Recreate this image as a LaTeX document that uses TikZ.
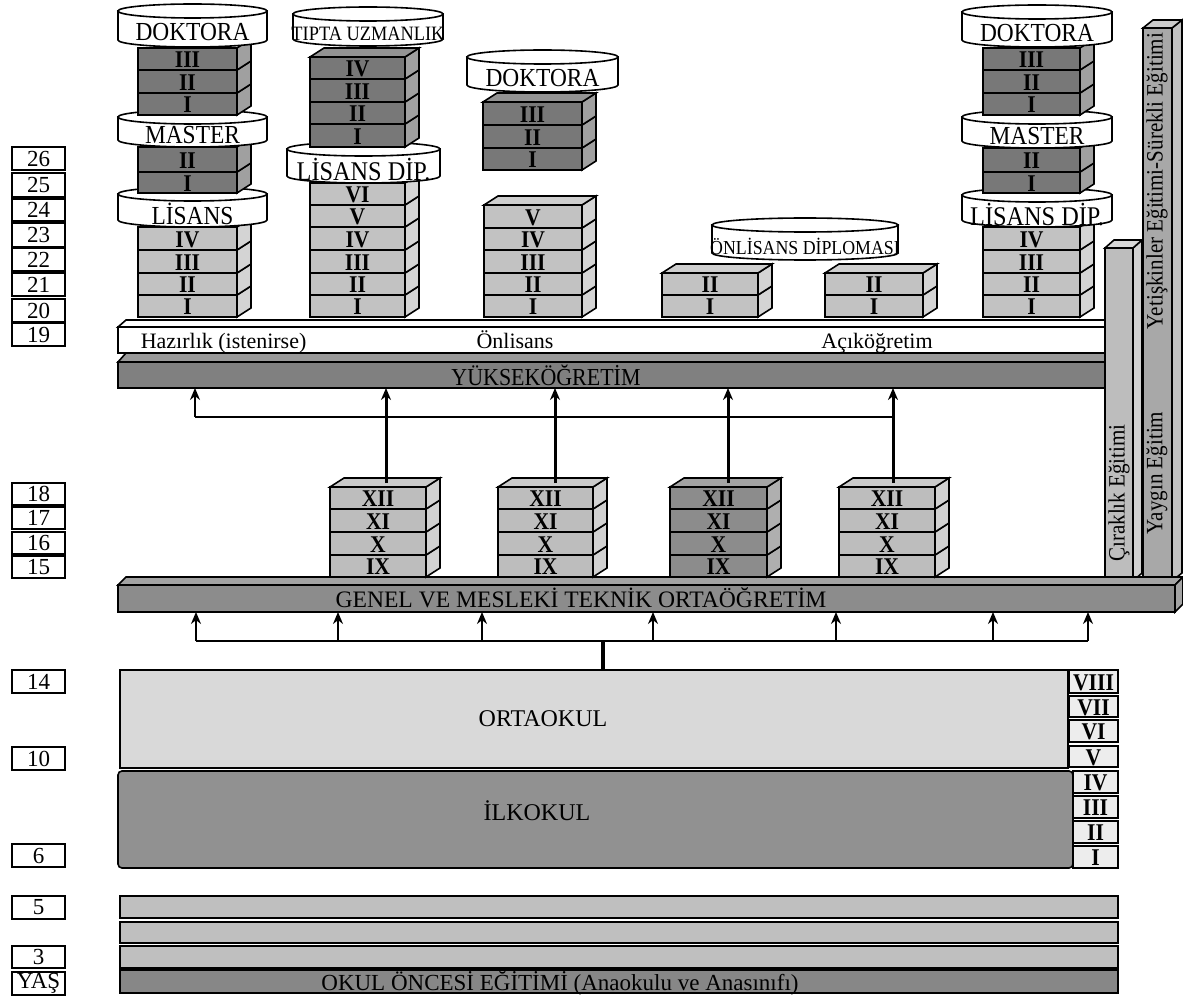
\documentclass[tikz,border=0pt]{standalone}
\usepackage{fontspec}
\setmainfont{Liberation Serif}
\newfontfamily\cond{Liberation Serif}[FakeStretch=0.9]
\usetikzlibrary{arrows.meta}
\definecolor{dk}{gray}{0.47}
\definecolor{lt}{gray}{0.76}
\definecolor{hs}{gray}{0.74}
\definecolor{hd}{gray}{0.55}
\definecolor{yokc}{gray}{0.5}
\definecolor{genc}{gray}{0.55}
\definecolor{orta}{gray}{0.85}
\definecolor{ilk}{gray}{0.57}
\definecolor{okb}{gray}{0.75}
\definecolor{okd}{gray}{0.53}
\definecolor{romc}{gray}{0.93}
\definecolor{circ}{gray}{0.74}
\definecolor{yayc}{gray}{0.66}
% block: x1 x2 ytop ybot colour label name
\newcommand\Blk[7]{%
  \filldraw[fill=#5] (#1,#3) rectangle (#2,#4);
  \filldraw[fill=#5!70!white] (#2,#3) -- ++(14,-9) -- ++(0,{#4-#3}) -- (#2,#4) -- cycle;
  \node[num] (#7) at ({(#1+#2)/2},{(#3+#4)/2+1}) {#6};}
% top face: x1 x2 y colour
\newcommand\TopF[4]{%
  \filldraw[fill=#4!80!white] (#1,#3) -- ++(14,-9) -- ({#2+14},{#3-9}) -- (#2,#3) -- cycle;}
% cylinder: x1 x2 ytop ybot text style name
\newcommand\Cyl[7]{%
  \filldraw[fill=white] (#1,{#3+7}) -- (#1,{#4-7}) arc[start angle=180,end angle=0,x radius={(#2-#1)/2},y radius=7] -- (#2,{#3+7}) -- cycle;
  \filldraw[fill=white] ({(#1+#2)/2},{#3+7}) ellipse[x radius={(#2-#1)/2},y radius=7];
  \node[#6] (#7) at ({(#1+#2)/2},{(#3+14+#4)/2}) {#5};}
% age box: ytop ybot text name
\newcommand\AgeBox[4]{%
  \draw[line width=0.9pt] (12,#1) rectangle (65,#2);
  \node[agetxt] (#4) at (38.5,{(#1+#2)/2}) {#3};}
% roman box: x1 x2 y1 y2 text name
\newcommand\RomBox[6]{%
  \filldraw[fill=romc] (#1,#3) rectangle (#2,#4);
  \node[num] (#6) at ({(#1+#2)/2},{(#3+#4)/2+1}) {#5};}
\begin{document}
\begin{tikzpicture}[x=0.5pt,y=-0.5pt,line width=0.8pt,
  num/.style={font=\cond\bfseries\fontsize{12}{12}\selectfont,inner sep=0pt},
  cylt/.style={font=\cond\fontsize{13}{13}\selectfont,inner sep=0pt},
  cylb/.style={font=\cond\fontsize{13.5}{13.5}\selectfont,inner sep=0pt},
  cyls/.style={font=\cond\fontsize{10.2}{10.2}\selectfont,inner sep=0pt},
  cylo/.style={font=\cond\fontsize{9.9}{9.9}\selectfont,inner sep=0pt},
  agetxt/.style={font=\fontsize{11.5}{11.5}\selectfont,inner sep=0pt},
  bandtxt/.style={font=\fontsize{11}{11}\selectfont,inner sep=0pt,anchor=base},
  bigtxt/.style={font=\fontsize{12}{12}\selectfont,inner sep=0pt,anchor=base},
  vtxt/.style={font=\cond\fontsize{11.7}{11.7}\selectfont,inner sep=0pt,rotate=90},
  arr/.style={-{Stealth[length=6pt,width=5pt]},line width=0.9pt},
  arrT/.style={-{Stealth[length=6pt,width=5pt]},line width=1.5pt}]
\useasboundingbox (0,0) rectangle (1183,1000);
\fill[white] (0,0) rectangle (1183,1000);

% ---------- age boxes
\AgeBox{147}{170}{26}{a26}
\AgeBox{173}{197}{25}{a25}
\AgeBox{199}{221}{24}{a24}
\AgeBox{223}{247}{23}{a23}
\AgeBox{248}{271}{22}{a22}
\AgeBox{273}{296}{21}{a21}
\AgeBox{299}{322}{20}{a20}
\AgeBox{323}{346}{19}{a19}
\AgeBox{483}{505}{18}{a18}
\AgeBox{507}{529}{17}{a17}
\AgeBox{532}{554}{16}{a16}
\AgeBox{556}{578}{15}{a15}
\AgeBox{670}{693}{14}{a14}
\AgeBox{747}{770}{10}{a10}
\AgeBox{844}{867}{6}{a6}
\AgeBox{896}{919}{5}{a5}
\AgeBox{946}{968}{3}{a3}
\AgeBox{972}{995}{YAŞ}{ayas}

% ---------- higher education bands
\filldraw[fill=white] (118,327) -- (126,320) -- (1105,320) -- (1105,327) -- cycle;
\filldraw[fill=white] (118,327) rectangle (1105,353);
\filldraw[fill=yokc!80!white] (118,362) -- (126,353) -- (1105,353) -- (1105,362) -- cycle;
\filldraw[fill=yokc] (118,362) rectangle (1105,388);
\coordinate (yokB) at (0,388);
\node[bandtxt,anchor=base west] (haz) at (140,349) {Hazırlık (istenirse)};
\node[bandtxt] (onls) at (515,349) {Önlisans};
\node[bandtxt] (acik) at (877,349) {Açıköğretim};
\node[bandtxt,font=\cond\fontsize{12.2}{12.2}\selectfont] (yok) at (546,385) {YÜKSEKÖĞRETİM};

% ---------- stack A
\Blk{138}{237}{295}{317}{lt}{I}{A1}
\Blk{138}{237}{273}{295}{lt}{II}{A2}
\Blk{138}{237}{250}{273}{lt}{III}{A3}
\Blk{138}{237}{227}{250}{lt}{IV}{A4}
\Cyl{118}{267}{187}{227}{LİSANS}{cylt}{lisA}
\Blk{138}{237}{172}{193}{dk}{I}{AM1}
\Blk{138}{237}{147}{172}{dk}{II}{AM2}
\Cyl{118}{267}{110}{147}{MASTER}{cylt}{masA}
\Blk{138}{237}{93}{115}{dk}{I}{AD1}
\Blk{138}{237}{70}{93}{dk}{II}{AD2}
\Blk{138}{237}{48}{70}{dk}{III}{AD3}
\Cyl{118}{267}{4}{47}{DOKTORA}{cylt}{dokA}

% ---------- stack B
\Blk{310}{405}{295}{317}{lt}{I}{B1}
\Blk{310}{405}{273}{295}{lt}{II}{B2}
\Blk{310}{405}{250}{273}{lt}{III}{B3}
\Blk{310}{405}{227}{250}{lt}{IV}{B4}
\Blk{310}{405}{205}{227}{lt}{V}{B5}
\Blk{310}{405}{183}{205}{lt}{VI}{B6}
\Cyl{287}{440}{142}{183}{LİSANS DİP.}{cylb}{lisB}
\Blk{310}{405}{124}{147}{dk}{I}{BT1}
\Blk{310}{405}{102}{124}{dk}{II}{BT2}
\Blk{310}{405}{79}{102}{dk}{III}{BT3}
\Blk{310}{405}{57}{79}{dk}{IV}{BT4}
\TopF{310}{405}{57}{dk}
\Cyl{293}{443}{7}{46}{TIPTA UZMANLIK}{cyls}{tip}

% ---------- stack C
\Blk{484}{582}{295}{317}{lt}{I}{C1}
\Blk{484}{582}{273}{295}{lt}{II}{C2}
\Blk{484}{582}{250}{273}{lt}{III}{C3}
\Blk{484}{582}{228}{250}{lt}{IV}{C4}
\Blk{484}{582}{205}{228}{lt}{V}{C5}
\TopF{484}{582}{205}{lt}
\Blk{483}{582}{148}{170}{dk}{I}{CD1}
\Blk{483}{582}{125}{148}{dk}{II}{CD2}
\Blk{483}{582}{102}{125}{dk}{III}{CD3}
\TopF{483}{582}{102}{dk}
\Cyl{467}{618}{50}{92}{DOKTORA}{cylt}{dokC}

% ---------- stacks D, E
\Blk{662}{758}{295}{317}{lt}{I}{D1}
\Blk{662}{758}{273}{295}{lt}{II}{D2}
\TopF{662}{758}{273}{lt}
\Blk{825}{923}{295}{317}{lt}{I}{E1}
\Blk{825}{923}{273}{295}{lt}{II}{E2}
\TopF{825}{923}{273}{lt}
\Cyl{712}{898}{218}{260}{ÖNLİSANS DİPLOMASI}{cylo}{onlc}

% ---------- stack F
\Blk{983}{1080}{295}{317}{lt}{I}{F1}
\Blk{983}{1080}{273}{295}{lt}{II}{F2}
\Blk{983}{1080}{250}{273}{lt}{III}{F3}
\Blk{983}{1080}{227}{250}{lt}{IV}{F4}
\Cyl{962}{1112}{188}{227}{LİSANS DİP.}{cylb}{lisF}
\Blk{983}{1080}{172}{193}{dk}{I}{FM1}
\Blk{983}{1080}{148}{172}{dk}{II}{FM2}
\Cyl{962}{1112}{110}{148}{MASTER}{cylt}{masF}
\Blk{983}{1080}{93}{115}{dk}{I}{FD1}
\Blk{983}{1080}{70}{93}{dk}{II}{FD2}
\Blk{983}{1080}{48}{70}{dk}{III}{FD3}
\Cyl{962}{1112}{5}{47}{DOKTORA}{cylt}{dokF}

% ---------- right vertical bars
\filldraw[fill=circ] (1105,248) rectangle (1133,581);
\filldraw[fill=circ!70!white] (1133,248) -- (1142,240) -- (1142,573) -- (1133,581) -- cycle;
\filldraw[fill=circ!60!white] (1105,248) -- (1114,240) -- (1142,240) -- (1133,248) -- cycle;
\filldraw[fill=yayc] (1143,28) rectangle (1172,581);
\filldraw[fill=yayc!70!white] (1172,28) -- (1182,20) -- (1182,573) -- (1172,581) -- cycle;
\filldraw[fill=yayc!60!white] (1143,28) -- (1153,20) -- (1182,20) -- (1172,28) -- cycle;
\node[vtxt] (tcir) at (1119,493) {Çıraklık Eğitimi};
\node[vtxt] (tyet) at (1157,181) {Yetişkinler Eğitimi-Sürekli Eğitimi};
\node[vtxt] (tyay) at (1157,473) {Yaygın Eğitim};

% ---------- secondary band
\filldraw[fill=genc!80!white] (118,585) -- (126,577) -- (1183,577) -- (1175,585) -- cycle;
\filldraw[fill=genc] (118,585) rectangle (1175,612);
\filldraw[fill=genc!80!white] (1175,585) -- (1183,577) -- (1183,604) -- (1175,612) -- cycle;
\coordinate (genB) at (0,612);
\node[bandtxt,font=\fontsize{11.8}{11.8}\selectfont] (gen) at (581,607) {GENEL VE MESLEKİ TEKNİK ORTAÖĞRETİM};

% ---------- high school stacks
\Blk{330}{426}{555}{577}{hs}{IX}{S1a}
\Blk{330}{426}{532}{555}{hs}{X}{S1b}
\Blk{330}{426}{509}{532}{hs}{XI}{S1c}
\Blk{330}{426}{487}{509}{hs}{XII}{S1d}
\TopF{330}{426}{487}{hs}
\Blk{498}{593}{555}{577}{hs}{IX}{S2a}
\Blk{498}{593}{532}{555}{hs}{X}{S2b}
\Blk{498}{593}{509}{532}{hs}{XI}{S2c}
\Blk{498}{593}{487}{509}{hs}{XII}{S2d}
\TopF{498}{593}{487}{hs}
\Blk{670}{767}{555}{577}{hd}{IX}{S3a}
\Blk{670}{767}{532}{555}{hd}{X}{S3b}
\Blk{670}{767}{509}{532}{hd}{XI}{S3c}
\Blk{670}{767}{487}{509}{hd}{XII}{S3d}
\TopF{670}{767}{487}{hd}
\Blk{839}{935}{555}{577}{hs}{IX}{S4a}
\Blk{839}{935}{532}{555}{hs}{X}{S4b}
\Blk{839}{935}{509}{532}{hs}{XI}{S4c}
\Blk{839}{935}{487}{509}{hs}{XII}{S4d}
\TopF{839}{935}{487}{hs}

% ---------- arrows to higher education
\coordinate (h0) at (195,417);
\coordinate (h4) at (893,417);
\coordinate (u1) at (386,483);
\coordinate (u2) at (555,483);
\coordinate (u3) at (728,483);
\coordinate (u4) at (893,483);
\draw[line width=1pt] (h0) -- (h4);
\draw[arr] (h0) -- (h0 |- yokB);
\foreach \u in {u1,u2,u3,u4} \draw[arrT] (\u) -- (\u |- yokB);

% ---------- middle school / primary
\filldraw[fill=orta] (120,670) rectangle (1068,768);
\filldraw[fill=ilk,rounded corners=2pt] (118,771) rectangle (1073,868);
\node[bigtxt] (orto) at (543,726) {ORTAOKUL};
\node[bigtxt] (ilko) at (537,820) {İLKOKUL};
\RomBox{1069}{1118}{670}{693}{VIII}{r8}
\RomBox{1069}{1118}{696}{717}{VII}{r7}
\RomBox{1069}{1118}{720}{742}{VI}{r6}
\RomBox{1069}{1118}{746}{767}{V}{r5}
\RomBox{1073}{1118}{771}{793}{IV}{r4}
\RomBox{1073}{1118}{796}{818}{III}{r3}
\RomBox{1073}{1118}{821}{843}{II}{r2}
\RomBox{1073}{1118}{846}{868}{I}{r1}

% ---------- arrows to secondary
\coordinate (l1) at (196,641);
\coordinate (l2) at (338,641);
\coordinate (l3) at (482,641);
\coordinate (l4) at (653,641);
\coordinate (l5) at (836,641);
\coordinate (l6) at (993,641);
\coordinate (l7) at (1088,641);
\coordinate (oTop) at (603,670);
\draw[line width=1pt] (l1) -- (l7);
\draw[line width=1.6pt] (oTop) -- (oTop |- l1);
\foreach \l in {l1,l2,l3,l4,l5,l6,l7} \draw[arr] (\l) -- (\l |- genB);

% ---------- pre-school bands
\filldraw[fill=okb] (120,896) rectangle (1118,918);
\filldraw[fill=okb] (120,922) rectangle (1118,943);
\filldraw[fill=okb] (120,946) rectangle (1118,968);
\filldraw[fill=okd] (120,970) rectangle (1118,993);
\draw[line width=1.4pt] (120,970) -- (1118,970);
\node[bandtxt,font=\fontsize{11.5}{11.5}\selectfont] (okul) at (560,990) {OKUL ÖNCESİ EĞİTİMİ (Anaokulu ve Anasınıfı)};
\end{tikzpicture}
\end{document}
